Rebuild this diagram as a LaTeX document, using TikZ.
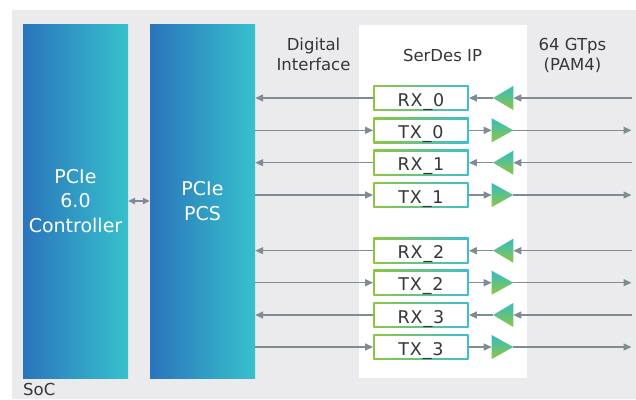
\documentclass[tikz,border=0pt]{standalone}
\usepackage{fontspec}
\setmainfont{DejaVu Sans}
\newfontfamily\boxfont[LetterSpace=5]{DejaVu Sans}
\usetikzlibrary{arrows.meta}
\definecolor{bgray}{HTML}{EBEBED}
\definecolor{arrgray}{HTML}{7F8C94}
\definecolor{textdark}{HTML}{363636}
\definecolor{blueL}{HTML}{2A74BC}
\definecolor{blueR}{HTML}{37C1CC}
\definecolor{lgreen}{HTML}{8CC63F}
\definecolor{lcyan}{HTML}{3CBFD0}
\definecolor{tritop}{HTML}{34BDC4}
\definecolor{tribot}{HTML}{8EC640}
\tikzset{
  block/.style={minimum width=105pt, minimum height=354pt, inner sep=0pt,
    left color=blueL, right color=blueR, text=white, align=center,
    font=\fontsize{19}{24.5}\selectfont},
  iobox/.style={minimum width=95.4pt, minimum height=25.6pt, inner sep=0pt,
    text height=16pt, text depth=0pt,
    left color=lgreen, right color=lcyan, text=textdark,
    font=\boxfont\fontsize{17.5}{20}\selectfont,
    path picture={\fill[white] ([shift={(2pt,2pt)}]path picture bounding box.south west)
      rectangle ([shift={(-2pt,-2pt)}]path picture bounding box.north east);}},
  lbl/.style={inner sep=0pt, text=textdark, align=center,
    font=\fontsize{16.5}{20}\selectfont},
  arr/.style={draw=arrgray, line width=1.4pt, -{Triangle[length=8pt,width=7pt]}},
  tri/.style={top color=tritop, bottom color=tribot}
}
\begin{document}
\begin{tikzpicture}[x=1pt,y=-1pt]
\useasboundingbox (0,0) rectangle (636,399);
\fill[bgray] (12,10) rectangle (636,399);
\node[fill=white, minimum width=168pt, minimum height=353pt, inner sep=0pt] (serdes) at (443,201.5) {};
\node[block] (ctrl) at (75.5,201) {PCIe\\6.0\\Controller};
\node[block] (pcs) at (202.5,201) {PCIe\\PCS};
\draw[arr, {Triangle[length=7pt,width=6.5pt]}-{Triangle[length=7pt,width=6.5pt]}] (ctrl.east) -- (pcs.west);
\node[lbl, anchor=base] (dig) at (313.5,70) {Digital\\Interface};
\node[lbl, anchor=base] (sdlbl) at (442.5,61) {SerDes IP};
\node[lbl, anchor=base] (rate) at (572.5,70) {64 GTps\\(PAM4)};
\node[lbl, anchor=base west] (soc) at (23,395.5) {SoC};
\foreach \i/\y in {0/98, 1/162.7, 2/250.7, 3/315}{
  \node[iobox] (rx\i) at (421,\y) {RX\_\i};
  \coordinate (rxtip\i) at (493,\y);
  \coordinate (rxbase\i) at (513.3,\y);
  \coordinate (rxin\i) at (632,\y);
  \shade[tri] (rxtip\i) -- ([yshift=12pt]rxbase\i) -- ([yshift=-12pt]rxbase\i) -- cycle;
  \draw[arr] (rxin\i) -- (rxbase\i);
  \draw[arr] (rxtip\i) -- (rx\i.east);
  \draw[arr] (rx\i.west) -- (pcs.east |- rx\i.west);
}
\foreach \i/\y in {0/130.3, 1/195, 2/282.7, 3/347}{
  \node[iobox] (tx\i) at (421,\y) {TX\_\i};
  \coordinate (txbase\i) at (491.7,\y);
  \coordinate (txtip\i) at (513.3,\y);
  \coordinate (txout\i) at (631.5,\y);
  \shade[tri] (txtip\i) -- ([yshift=12pt]txbase\i) -- ([yshift=-12pt]txbase\i) -- cycle;
  \draw[arr] (tx\i.east) -- (txbase\i);
  \draw[arr] (txtip\i) -- (txout\i);
  \draw[arr] (pcs.east |- tx\i.west) -- (tx\i.west);
}
\end{tikzpicture}
\end{document}
